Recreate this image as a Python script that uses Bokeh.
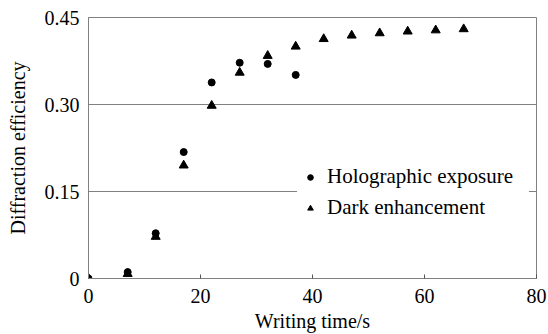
from bokeh.plotting import figure
from bokeh.models import FixedTicker, Range1d, Legend, LegendItem
from bokeh.embed import file_html
from bokeh.resources import INLINE

# Data
holo_x = [0, 7, 12, 17, 22, 27, 32, 37]
holo_y = [0.0, 0.011, 0.078, 0.218, 0.338, 0.372, 0.370, 0.351]
dark_x = [0, 7, 12, 17, 22, 27, 32, 37, 42, 47, 52, 57, 62, 67]
dark_y = [0.0, 0.008, 0.072, 0.195, 0.298, 0.355, 0.384, 0.400, 0.413, 0.419, 0.423, 0.426, 0.428, 0.430]

x_ticks = [0, 20, 40, 60, 80]
y_ticks = [0, 0.15, 0.30, 0.45]
y_tick_labels = ["0", "0.15", "0.30", "0.45"]

FONT = "Liberation Serif"
GRAY = "#808080"

p = figure(width=548, height=334, output_backend="svg", toolbar_location=None,
           x_range=Range1d(0, 80), y_range=Range1d(0, 0.45),
           min_border_left=88, min_border_right=12, min_border_top=17, min_border_bottom=56,
           background_fill_color="white", border_fill_color="white")

p.outline_line_color = GRAY
p.outline_line_width = 1

p.xgrid.visible = False
p.ygrid.ticker = FixedTicker(ticks=[0.15, 0.30])
p.ygrid.grid_line_color = GRAY
p.ygrid.grid_line_width = 1

r1 = p.scatter(holo_x, holo_y, marker="circle", size=7, color="black")
r2 = p.scatter(dark_x, dark_y, marker="triangle", size=9, color="black")

xa = p.xaxis[0]
xa.ticker = FixedTicker(ticks=x_ticks)
xa.axis_label = "Writing time/s"
xa.major_tick_in = 4
xa.major_tick_out = 0
xa.minor_tick_line_color = None
xa.major_tick_line_color = "#555555"
xa.axis_line_color = GRAY
xa.major_label_standoff = 10
xa.axis_label_standoff = 4

ya = p.yaxis[0]
ya.ticker = FixedTicker(ticks=y_ticks)
ya.major_label_overrides = {t: l for t, l in zip(y_ticks, y_tick_labels)}
ya.axis_label = "Diffraction efficiency"
ya.major_tick_in = 0
ya.major_tick_out = 0
ya.minor_tick_line_color = None
ya.axis_line_color = GRAY
ya.major_label_standoff = 9
ya.axis_label_standoff = 13

for ax in (xa, ya):
    ax.major_label_text_font = FONT
    ax.major_label_text_font_size = "20px"
    ax.major_label_text_color = "black"
    ax.axis_label_text_font = FONT
    ax.axis_label_text_font_size = "20px"
    ax.axis_label_text_font_style = "normal"
    ax.axis_label_text_color = "black"

legend = Legend(items=[LegendItem(label="Holographic exposure", renderers=[r1]),
                       LegendItem(label="Dark enhancement", renderers=[r2])],
                location=(209, 52))
legend.background_fill_color = "white"
legend.background_fill_alpha = 1
legend.border_line_alpha = 0
legend.padding = 6
legend.spacing = 6
legend.label_height = 24
legend.glyph_width = 14
legend.glyph_height = 14
legend.label_standoff = 10
legend.label_width = 196
legend.label_text_font = FONT
legend.label_text_font_size = "21px"
legend.label_text_color = "black"
legend.margin = 0
p.add_layout(legend)

open("out.html", "w").write(file_html(p, INLINE))
